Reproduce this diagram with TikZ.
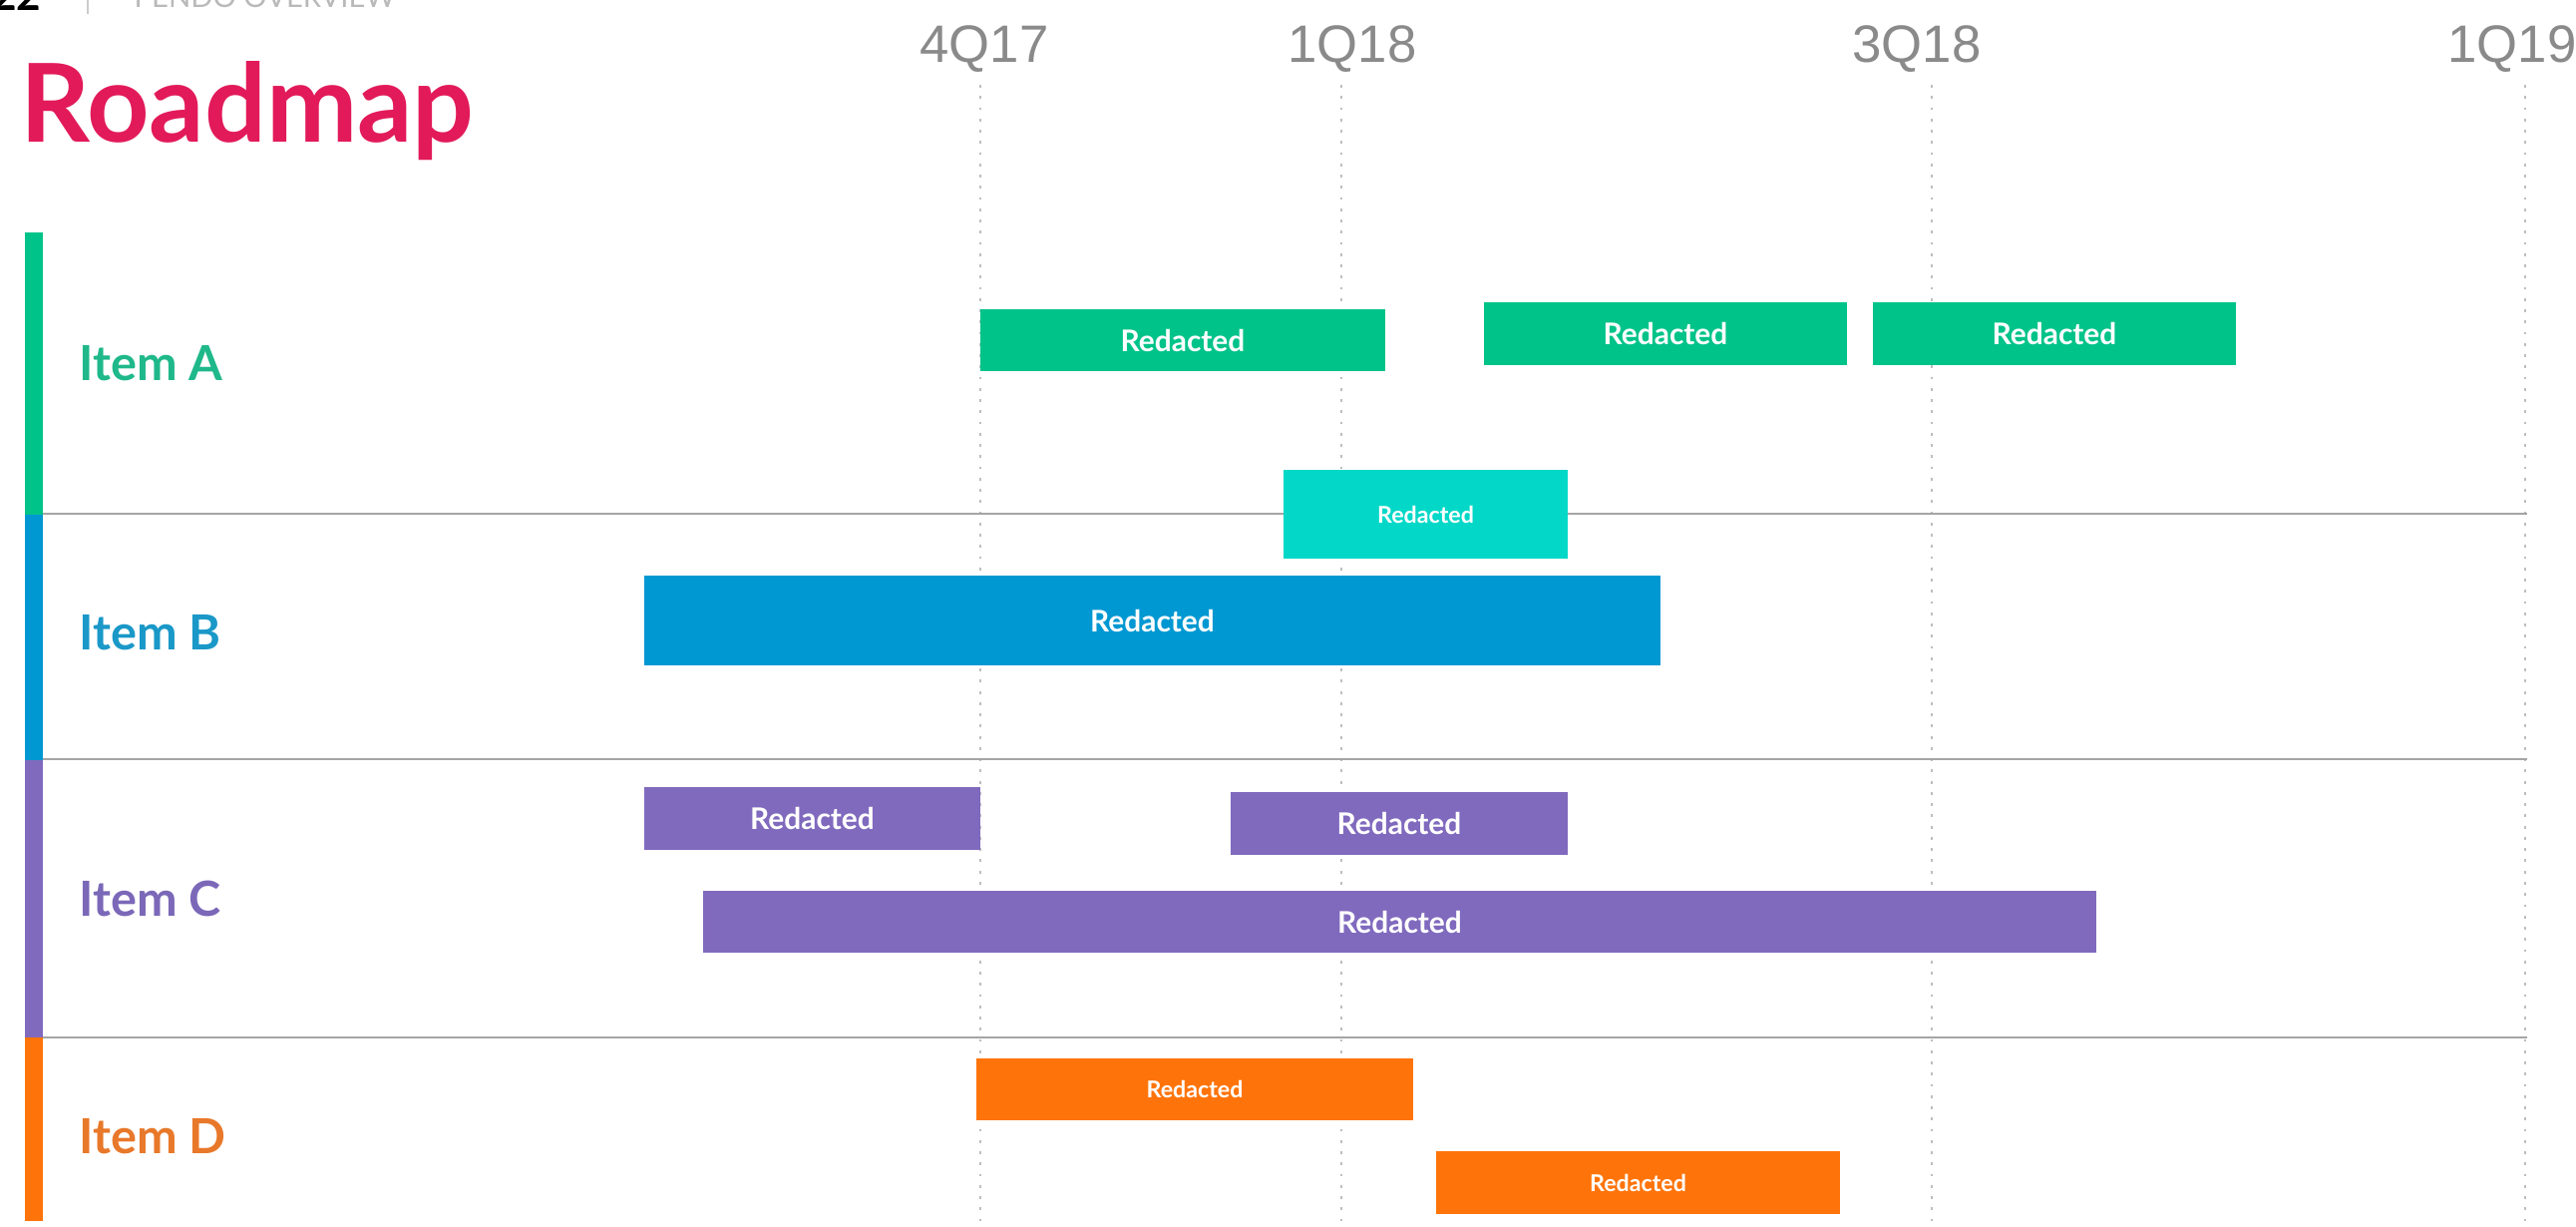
\documentclass[tikz,border=0pt]{standalone}
\usepackage{fontspec}
\setmainfont{Lato}
\newfontfamily\qfont{Liberation Sans}
\definecolor{cGreen}{RGB}{0,195,137}
\definecolor{cBlue}{RGB}{0,152,210}
\definecolor{cPurple}{RGB}{128,106,190}
\definecolor{cOrange}{RGB}{255,116,10}
\definecolor{cCyan}{RGB}{3,216,200}
\definecolor{tGreen}{RGB}{31,184,138}
\definecolor{tBlue}{RGB}{26,152,200}
\definecolor{tPurple}{RGB}{123,104,184}
\definecolor{tOrange}{RGB}{232,120,42}
\definecolor{cPink}{RGB}{226,26,90}
\definecolor{qGray}{RGB}{138,138,138}
\definecolor{sepGray}{RGB}{165,165,165}
\definecolor{dotGray}{RGB}{190,190,190}
\begin{document}
\begin{tikzpicture}[x=0.01cm,y=-0.01cm,
  barbox/.style={rectangle,inner sep=0pt,text=white,font=\fontsize{8.5}{10}\selectfont\bfseries},
  smallbar/.style={barbox,font=\fontsize{6.6}{8}\selectfont\bfseries},
  itemlabel/.style={anchor=base west,inner sep=0pt,font=\fontsize{13.8}{16}\selectfont\bfseries},
  quarter/.style={anchor=base,inner sep=0pt,text=qGray,font=\qfont\fontsize{15}{18}\selectfont},
  sepline/.style={sepGray,line width=0.8pt},
  dotline/.style={dotGray,line width=0.6pt,dash pattern=on 0.8pt off 2.4pt},
  sidebar/.style={inner sep=0pt,minimum width=0.18cm}]
\useasboundingbox (0,0) rectangle (2583,1229);
\fill[white] (0,0) rectangle (2583,1229);

% header
\node[anchor=base east,inner sep=0pt,font=\fontsize{12}{14}\selectfont\bfseries] (pagenum) at (42,10) {22};
\coordinate (hs1) at (88,0);
\coordinate (hs2) at (88,14);
\draw[gray!40,line width=0.6pt] (hs1) -- (hs2);
\node[anchor=base west,inner sep=0pt,text=gray!55,font=\fontsize{8.3}{10}\selectfont] (section) at (134,7) {PENDO OVERVIEW};

\node[anchor=base west,inner sep=0pt,text=cPink,font=\fontsize{31}{35}\selectfont\bfseries] (title) at (20,142) {Roadmap};

% quarter labels and dotted lines
\node[quarter] (q1) at (987,62) {4Q17};
\node[quarter] (q2) at (1356,62) {1Q18};
\node[quarter] (q3) at (1922,62) {3Q18};
\node[quarter] (q4) at (2519,62) {1Q19};
\foreach \x/\n in {983/a,1345/b,1937/c,2532/d}{
  \coordinate (dt\n) at (\x,85);
  \coordinate (db\n) at (\x,1229);
  \draw[dotline] (dt\n) -- (db\n);
}

% separators
\coordinate (s1l) at (43,515); \coordinate (s1r) at (2534,515);
\coordinate (s2l) at (43,761); \coordinate (s2r) at (2534,761);
\coordinate (s3l) at (43,1040); \coordinate (s3r) at (2534,1040);
\draw[sepline] (s1l) -- (s1r);
\draw[sepline] (s2l) -- (s2r);
\draw[sepline] (s3l) -- (s3r);

% side colour bars
\node[sidebar,fill=cGreen,minimum height=2.83cm] (sideA) at (34,374.5) {};
\node[sidebar,fill=cBlue,minimum height=2.46cm] (sideB) at (34,639) {};
\node[sidebar,fill=cPurple,minimum height=2.78cm] (sideC) at (34,901) {};
\node[sidebar,fill=cOrange,minimum height=1.84cm] (sideD) at (34,1132) {};

% item labels
\node[itemlabel,text=tGreen] (itemA) at (79,381) {Item A};
\node[itemlabel,text=tBlue] (itemB) at (79,651) {Item B};
\node[itemlabel,text=tPurple] (itemC) at (79,918) {Item C};
\node[itemlabel,text=tOrange] (itemD) at (79,1156) {Item D};

% bars
\node[barbox,fill=cGreen,minimum width=4.06cm,minimum height=0.62cm] (a1) at (1186,341) {Redacted};
\node[barbox,fill=cGreen,minimum width=3.64cm,minimum height=0.63cm] (a2) at (1670,334.5) {Redacted};
\node[barbox,fill=cGreen,minimum width=3.64cm,minimum height=0.63cm] (a3) at (2060,334.5) {Redacted};
\node[smallbar,fill=cCyan,minimum width=2.85cm,minimum height=0.89cm] (b0) at (1429.5,515.5) {Redacted};
\node[barbox,fill=cBlue,minimum width=10.19cm,minimum height=0.90cm] (b1) at (1155.5,622) {Redacted};
\node[barbox,fill=cPurple,minimum width=3.37cm,minimum height=0.63cm] (c1) at (814.5,820.5) {Redacted};
\node[barbox,fill=cPurple,minimum width=3.38cm,minimum height=0.63cm] (c2) at (1403,825.5) {Redacted};
\node[barbox,fill=cPurple,minimum width=13.97cm,minimum height=0.62cm] (c3) at (1403.5,924) {Redacted};
\node[smallbar,fill=cOrange,minimum width=4.38cm,minimum height=0.62cm] (d1) at (1198,1092) {Redacted};
\node[smallbar,fill=cOrange,minimum width=4.05cm,minimum height=0.63cm] (d2) at (1642.5,1185.5) {Redacted};
\end{tikzpicture}
\end{document}
